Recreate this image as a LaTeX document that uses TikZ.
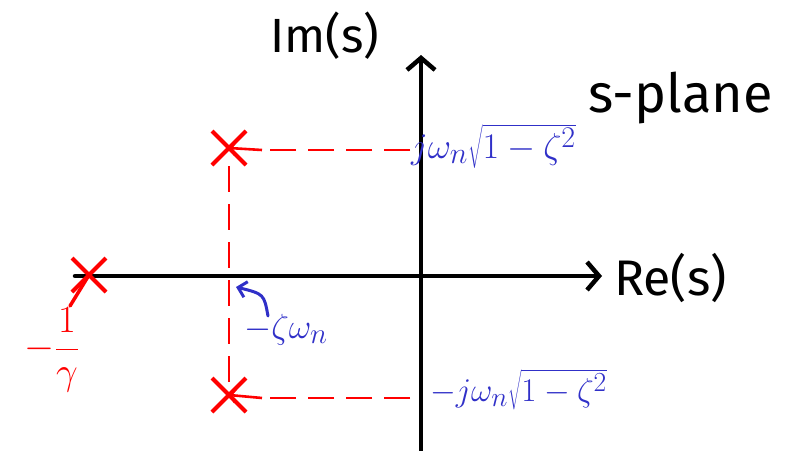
\documentclass[tikz,border=0pt]{standalone}
\usepackage{graphicx}
\usepackage{fontspec}
\setmainfont{Fira Sans}
\usetikzlibrary{arrows.meta,shapes.misc}
\definecolor{hblue}{RGB}{48,48,200}
\definecolor{hred}{RGB}{255,0,0}
\newcommand{\bigmath}[2][1.4]{\scalebox{#1}{\Huge$#2$}}
\tikzset{
  axis/.style={line width=4.5pt,line cap=round,-{Straight Barb[length=12pt,width=28pt,line width=4.5pt]}},
  pole/.style={draw=hred,cross out,line width=4pt,minimum size=30pt,inner sep=0pt},
  dashline/.style={draw=hred,line width=2.6pt,dash pattern=on 26pt off 12pt},
  leader/.style={draw=hred,line width=2.6pt,-{Straight Barb[length=5pt,width=14pt,line width=2.6pt]}},
  blabel/.style={text=hblue,inner sep=0pt},
  klabel/.style={text=black,inner sep=0pt},
  barrow/.style={draw=hblue,line width=3pt,line cap=round,-{Straight Barb[length=8pt,width=16pt,line width=3pt]}}
}
\begin{document}
\begin{tikzpicture}[x=1pt,y=-1pt]
\useasboundingbox (0,0) rectangle (792,450);
% axes
\coordinate (xl) at (75,276);
\coordinate (xr) at (602,276);
\coordinate (yb) at (421,452);
\coordinate (yt) at (421,55);
\draw[axis] (xl) -- (xr);
\draw[axis] (yb) -- (yt);
% axis labels
\node[klabel,font=\fontsize{48}{52}\selectfont] (im) at (325,36) {Im(s)};
\node[klabel,font=\fontsize{50}{54}\selectfont,anchor=west] (re) at (614,278) {Re(s)};
\node[klabel,font=\fontsize{54}{58}\selectfont,anchor=west] (sp) at (588,98) {s-plane};
% poles
\node[pole] (p1) at (229,148) {};
\node[pole] (p2) at (229,395) {};
\node[pole] (p3) at (89,275) {};
% dashed guides
\coordinate (t1) at (410,150);
\coordinate (t2) at (410,398);
\coordinate (m1) at (262,150);
\coordinate (m2) at (262,398);
\coordinate (v1) at (229,166);
\draw[dashline] (t1) -- (m1);
\draw[leader] (m1) -- (p1.center);
\draw[dashline] (t2) -- (m2);
\draw[leader] (m2) -- (p2.center);
\draw[dashline] (v1) -- (p2.center);
% pole labels
\node[blabel,anchor=west] (lj) at (411,146) {\bigmath[1.45]{j\omega_n\sqrt{1-\zeta^2}}};
\node[blabel,anchor=west] (lmj) at (430,390) {\bigmath[1.33]{-j\omega_n\sqrt{1-\zeta^2}}};
\node[blabel,anchor=west] (lz) at (244,330) {\bigmath[1.4]{-\zeta\omega_n}};
\coordinate (za) at (268,316);
\coordinate (zb) at (236,287);
\draw[barrow] (za) .. controls (264,294) .. (zb);
% left pole label
\node[text=hred,inner sep=0pt] (lt) at (52,350) {\bigmath[1.55]{-\displaystyle\frac{1}{\gamma}}};
\coordinate (lt1) at (70,306);
\draw[draw=hred,line width=3.5pt,line cap=round] (p3.center) -- (lt1);
\end{tikzpicture}
\end{document}
